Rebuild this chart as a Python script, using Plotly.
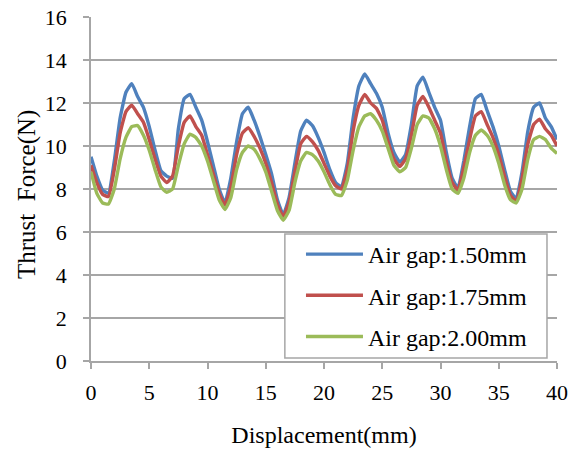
import plotly.graph_objects as go

displacement = [i * 0.5 for i in range(81)]

force_150 = [9.5, 8.6, 7.95, 7.8, 9.3, 11.3, 12.5, 12.9, 12.3, 11.8,
             10.9, 9.8, 8.85, 8.6, 8.5, 10.8, 12.2, 12.4, 11.8, 11.2,
             10.2, 9.1, 8.0, 7.35, 8.5, 10.2, 11.5, 11.8, 11.2, 10.45,
             9.6, 8.7, 7.5, 6.8, 7.6, 9.2, 10.7, 11.2, 10.95, 10.4,
             9.7, 8.9, 8.3, 8.1, 9.2, 11.3, 12.8, 13.35, 12.9, 12.45,
             11.8, 10.6, 9.7, 9.25, 9.6, 11.0, 12.8, 13.2, 12.5, 11.8,
             11.2, 9.7, 8.5, 8.05, 9.3, 10.9, 12.2, 12.4, 11.65, 10.9,
             10.0, 8.9, 7.9, 7.55, 8.8, 10.7, 11.8, 12.0, 11.3, 10.9,
             10.3]

force_175 = [9.1, 8.3, 7.75, 7.65, 8.9, 10.6, 11.6, 11.9, 11.5, 11.1,
             10.3, 9.4, 8.6, 8.3, 8.6, 10.0, 11.1, 11.4, 10.9, 10.5,
             9.6, 8.7, 7.8, 7.25, 8.1, 9.6, 10.6, 10.85, 10.45, 9.9,
             9.2, 8.3, 7.3, 6.7, 7.4, 8.8, 10.1, 10.45, 10.2, 9.8,
             9.2, 8.6, 8.15, 8.0, 8.9, 10.7, 11.9, 12.4, 12.0, 11.75,
             11.2, 10.2, 9.4, 9.05, 9.4, 10.5, 11.9, 12.3, 11.8, 11.2,
             10.6, 9.3, 8.3, 7.95, 9.0, 10.3, 11.4, 11.6, 11.0, 10.4,
             9.6, 8.6, 7.7, 7.45, 8.5, 10.1, 11.0, 11.25, 10.8, 10.5,
             10.0]

force_200 = [8.8, 7.8, 7.35, 7.3, 8.0, 9.4, 10.4, 10.9, 10.95, 10.5,
             9.8, 8.9, 8.1, 7.85, 8.0, 9.1, 10.1, 10.55, 10.4, 10.0,
             9.3, 8.4, 7.5, 7.05, 7.6, 8.9, 9.7, 10.0, 9.85, 9.4,
             8.8, 7.9, 7.0, 6.55, 7.0, 8.3, 9.3, 9.7, 9.6, 9.3,
             8.8, 8.2, 7.75, 7.7, 8.4, 9.8, 10.9, 11.4, 11.5, 11.2,
             10.7, 9.9, 9.1, 8.8, 9.0, 9.9, 11.0, 11.4, 11.3, 10.8,
             10.0, 8.9, 8.0, 7.8, 8.5, 9.7, 10.5, 10.75, 10.5, 10.0,
             9.2, 8.2, 7.5, 7.35, 8.0, 9.4, 10.3, 10.45, 10.3, 9.9,
             9.65]

series_names = ["Air gap:1.50mm", "Air gap:1.75mm", "Air gap:2.00mm"]
series_values = [force_150, force_175, force_200]
series_colors = ["#4F81BD", "#C0504D", "#9BBB59"]

x_ticks = [0, 5, 10, 15, 20, 25, 30, 35, 40]
y_ticks = [0, 2, 4, 6, 8, 10, 12, 14, 16]

font_family = "Liberation Serif, serif"
grid_color = "#A6A6A6"

fig = go.Figure()
for name, vals, col in zip(series_names, series_values, series_colors):
    fig.add_trace(go.Scatter(
        x=displacement, y=vals, mode="lines", name=name,
        legendgroup=name,
        line=dict(color=col, width=3.4, shape="spline", smoothing=0.4),
    ))

# legend frame
fig.add_shape(type="rect", xref="paper", yref="paper",
              x0=0.416, x1=0.9785, y0=0.009, y1=0.369,
              line=dict(color=grid_color, width=1.5),
              fillcolor="white", layer="above")

fig.add_annotation(text="Thrust  Force(N)", xref="paper", yref="paper",
                   x=-0.1373, y=0.4826, xanchor="center", yanchor="middle",
                   textangle=-90, showarrow=False,
                   font=dict(family=font_family, size=25, color="black"))

fig.update_layout(
    width=580, height=450,
    margin=dict(l=91, r=23, t=17, b=89, autoexpand=False),
    paper_bgcolor="white", plot_bgcolor="white",
    font=dict(family=font_family, size=22, color="black"),
    showlegend=True,
    legend=dict(
        x=0.4506, y=0.375, xanchor="left", yanchor="top",
        bgcolor="rgba(0,0,0,0)", borderwidth=0,
        font=dict(family=font_family, size=24, color="black"),
        itemwidth=57, tracegroupgap=7,
    ),
    xaxis=dict(
        range=[0, 40], tickvals=x_ticks, ticktext=[str(v) for v in x_ticks],
        showgrid=False, zeroline=False, automargin=False,
        showline=True, linecolor=grid_color, linewidth=1.5,
        ticks="outside", ticklen=6, tickcolor=grid_color, tickwidth=1.5,
        ticklabelstandoff=5,
        tickfont=dict(family=font_family, size=22, color="black"),
        title=dict(text="Displacement(mm)", standoff=22,
                   font=dict(family=font_family, size=24, color="black")),
    ),
    yaxis=dict(
        range=[0, 16], tickvals=y_ticks, ticktext=[str(v) for v in y_ticks],
        showgrid=True, gridcolor=grid_color, gridwidth=1.5, zeroline=False,
        automargin=False,
        showline=True, linecolor=grid_color, linewidth=1.5,
        ticks="outside", ticklen=6, tickcolor=grid_color, tickwidth=1.5,
        ticklabelstandoff=12,
        tickfont=dict(family=font_family, size=22, color="black"),
    ),
)

fig.write_html("out.html",
               config={"displayModeBar": False},
               post_script="document.body.style.margin='0';")
